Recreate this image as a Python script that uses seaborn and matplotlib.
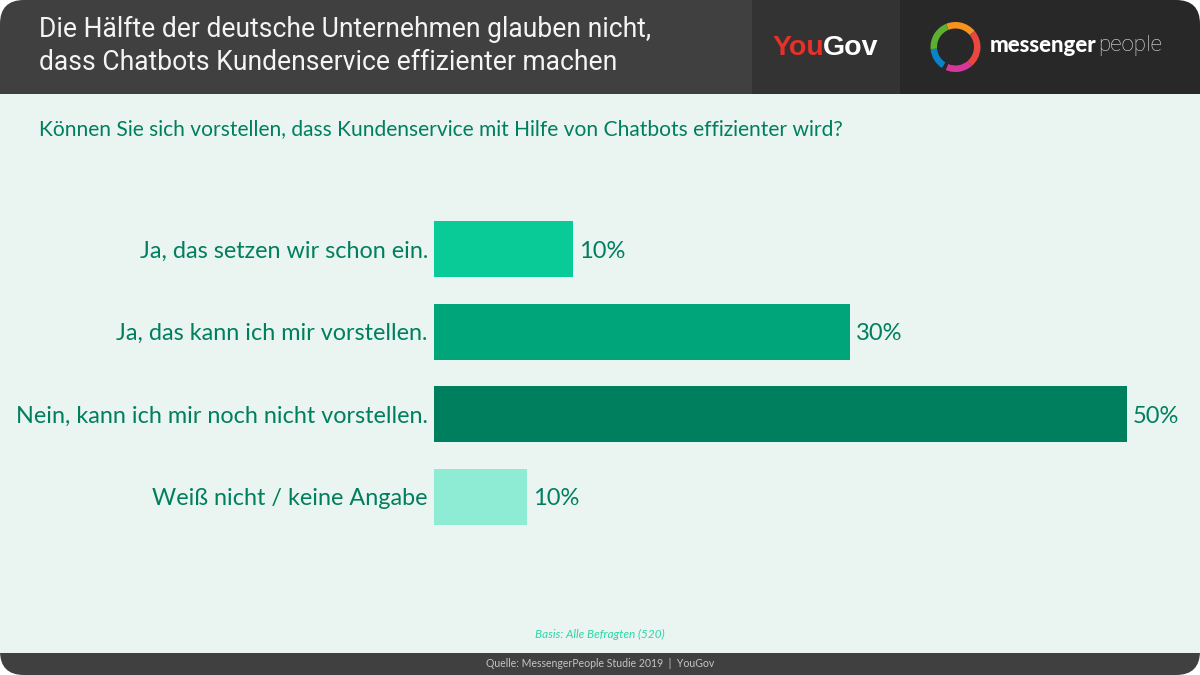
import matplotlib
matplotlib.use("Agg")
import matplotlib.pyplot as plt
from matplotlib.patches import FancyBboxPatch, Rectangle, Wedge
import pandas as pd
import seaborn as sns

# data
answers = ["Ja, das setzen wir schon ein.", "Ja, das kann ich mir vorstellen.",
           "Nein, kann ich mir noch nicht vorstellen.", "Weiß nicht / keine Angabe"]
# last bar is drawn shorter than its label in the original
bar_values = [10, 30, 50, 6.7]
bar_labels = ["10%", "30%", "50%", "10%"]
bar_colors = ["#08CB98", "#00A67A", "#007F5F", "#8EECD4"]

title_lines = ["Die Hälfte der deutsche Unternehmen glauben nicht,",
               "dass Chatbots Kundenservice effizienter machen"]
question = "Können Sie sich vorstellen, dass Kundenservice mit Hilfe von Chatbots effizienter wird?"
basis = "Basis: Alle Befragten (520)"
source = "Quelle: MessengerPeople Studie 2019  |  YouGov"

# ring of the logo: start angle, end angle, colour
ring_starts = [40, 112, 185, 247, 311]
ring_ends = [112, 185, 237, 311, 400]
ring_colors = ["#F7941D", "#5DB12F", "#0A84C6", "#D6379B", "#E8483F"]

GREEN = "#007F5F"
BG = "#EAF4F0"

sns.set_theme(style="white")
plt.rcParams["font.family"] = ["Lato", "DejaVu Sans"]

fig = plt.figure(figsize=(12, 6.75), dpi=100, facecolor="white")

# page furniture in pixel coordinates
page = fig.add_axes([0, 0, 1, 1], zorder=0)
page.set_xlim(0, 1200)
page.set_ylim(675, 0)
page.axis("off")

rounded = FancyBboxPatch((0, 0), 1200, 675, boxstyle="round,pad=0,rounding_size=24",
                         facecolor=BG, edgecolor="none", transform=page.transData)
page.add_patch(rounded)
for x, y, w, h, col in [(0, 0, 752, 94, "#404040"), (752, 0, 148, 94, "#333333"),
                        (900, 0, 300, 94, "#282828"), (0, 653, 1200, 22, "#404040")]:
    r = Rectangle((x, y), w, h, facecolor=col, edgecolor="none")
    page.add_patch(r)
    r.set_clip_path(rounded)

title_font = ["Roboto", "DejaVu Sans"]
page.text(39, 29, title_lines[0], color="#F4F4F4", fontsize=19.1, family=title_font, va="center")
page.text(39, 62, title_lines[1], color="#F4F4F4", fontsize=19.1, family=title_font, va="center")

page.text(39, 129, question, color=GREEN, fontsize=15.15, va="center")
page.text(600, 634, basis, color="#2BD6A8", fontsize=8.5, style="italic", ha="center", va="center")
page.text(600, 663.5, source, color="#C4C4C4", fontsize=7.6, ha="center", va="center")

# logos
logo_font = ["Liberation Sans", "DejaVu Sans"]
page.text(772, 48, "You", color="#E8302A", fontsize=20.5, fontweight="bold", family=logo_font, va="center")
page.text(823, 48, "Gov", color="white", fontsize=20.5, fontweight="bold", family=logo_font, va="center")
for start, end, col in zip(ring_starts, ring_ends, ring_colors):
    # y axis points down here, so the angles get flipped
    page.add_patch(Wedge((955.5, 47), 25, -end, -start, width=6.5, facecolor=col, edgecolor="none"))
page.text(990, 46, "messenger", color="white", fontsize=16, fontweight="black", va="center")
page.text(1098, 46, "people", color="#E4E4E4", fontsize=16, fontweight="light",
          family=["Roboto", "DejaVu Sans"], va="center")

# bars: x=0 at 434 px, x=50 at 1127 px
px_per_unit = (1127 - 434) / 50
ax = fig.add_axes([434 / 1200, 1 - 538 / 675, (1200 - 434) / 1200, 330 / 675], zorder=1)
ax.patch.set_alpha(0)

df = pd.DataFrame({"answer": answers, "value": bar_values})
sns.barplot(data=df, x="value", y="answer", hue="answer", palette=bar_colors,
            width=56 / 82.5, dodge=False, legend=False, saturation=1, linewidth=0, ax=ax)
ax.set_xlim(0, (1200 - 434) / px_per_unit)
ax.set_xlabel("")
ax.set_ylabel("")
ax.set_xticks([])
ax.tick_params(axis="y", length=0, pad=4.5, labelsize=16.8, labelcolor=GREEN)
sns.despine(ax=ax, left=True, bottom=True)

for container, label in zip(ax.containers, bar_labels):
    for txt in ax.bar_label(container, labels=[label], padding=4.3, fontsize=17, color=GREEN):
        txt.set_va("center_baseline")

fig.savefig("out.png", dpi=100, facecolor="white")
